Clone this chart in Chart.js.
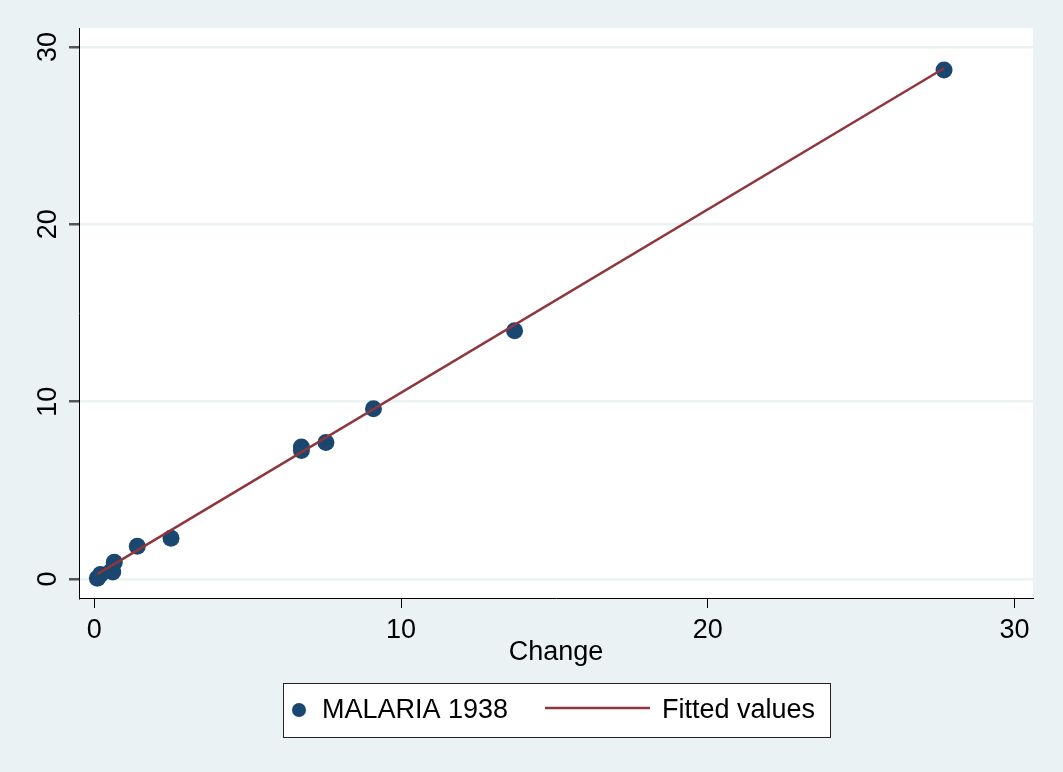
<!DOCTYPE html>
<html>
<head>
<meta charset="utf-8">
<script src="https://cdn.jsdelivr.net/npm/chart.js@4"></script>
<style>
  html, body { margin: 0; padding: 0; background: #eaf2f3; }
  #wrap { width: 1063px; height: 772px; }
</style>
</head>
<body>
<div id="wrap"><canvas id="chart"></canvas></div>
<script>
// values
const malariaX = [0.1, 0.2, 0.55, 0.6, 0.65, 1.4, 2.5, 6.75, 6.75, 7.55, 9.1, 13.7, 27.7];
const malariaY = [0.05, 0.25, 0.45, 0.4, 0.95, 1.85, 2.3, 7.25, 7.45, 7.7, 9.6, 14.0, 28.7];
const fittedX = [0.1, 27.7];
const fittedY = [0.28, 28.8];
const xTicks = [0, 10, 20, 30];
const yTicks = [0, 10, 20, 30];
const xTitle = 'Change';
const legendLabels = ['MALARIA 1938', 'Fitted values'];

const navy = '#1a476f';
const maroon = '#90353b';
const bg = '#eaf2f3';
const font = '"Liberation Sans", Arial, Helvetica, sans-serif';

const plotBg = {
    id: 'plotBg',
    beforeDraw(chart) {
        const { ctx, chartArea: a } = chart;
        ctx.save();
        ctx.fillStyle = bg;
        ctx.fillRect(0, 0, chart.width, chart.height);
        ctx.fillStyle = '#ffffff';
        ctx.fillRect(a.left, a.top, a.right - a.left, a.bottom - a.top);
        ctx.restore();
    }
};

// y tick labels are rotated in the original, chart.js can't do that on y
const yLabels = {
    id: 'yLabels',
    afterDraw(chart) {
        const { ctx } = chart;
        const y = chart.scales.y;
        ctx.save();
        ctx.fillStyle = '#000';
        ctx.font = '27px ' + font;
        ctx.textAlign = 'center';
        ctx.textBaseline = 'middle';
        yTicks.forEach(v => {
            ctx.save();
            ctx.translate(49, y.getPixelForValue(v));
            ctx.rotate(-Math.PI / 2);
            ctx.fillText(String(v), 0, 0);
            ctx.restore();
        });
        ctx.restore();
    }
};

const boxLegend = {
    id: 'boxLegend',
    afterDraw(chart) {
        const { ctx } = chart;
        ctx.save();
        ctx.fillStyle = '#fff';
        ctx.fillRect(283, 683, 547, 54);
        ctx.strokeStyle = '#222';
        ctx.lineWidth = 1;
        ctx.strokeRect(283.5, 683.5, 547, 54);

        ctx.fillStyle = navy;
        ctx.beginPath();
        ctx.arc(299, 710, 7, 0, Math.PI * 2);
        ctx.fill();

        ctx.strokeStyle = maroon;
        ctx.lineWidth = 2.5;
        ctx.beginPath();
        ctx.moveTo(545, 708);
        ctx.lineTo(650, 708);
        ctx.stroke();

        ctx.fillStyle = '#000';
        ctx.font = '27px ' + font;
        ctx.textBaseline = 'middle';
        ctx.fillText(legendLabels[0], 322, 711);
        ctx.fillText(legendLabels[1], 662, 711);
        ctx.restore();
    }
};

const ctx = document.getElementById('chart').getContext('2d');
new Chart(ctx, {
    type: 'scatter',
    data: {
        datasets: [{
            label: legendLabels[0],
            data: malariaX.map((x, i) => ({ x: x, y: malariaY[i] })),
            backgroundColor: navy,
            borderColor: navy,
            pointRadius: 8.5,
            pointBorderWidth: 0,
            order: 2
        }, {
            label: legendLabels[1],
            type: 'line',
            data: fittedX.map((x, i) => ({ x: x, y: fittedY[i] })),
            borderColor: maroon,
            borderWidth: 2.5,
            pointRadius: 0,
            fill: false,
            order: 1
        }]
    },
    options: {
        responsive: true,
        maintainAspectRatio: false,
        animation: false,
        layout: { padding: { top: 28, right: 30, bottom: 103, left: 0 } },
        plugins: {
            legend: { display: false },
            tooltip: { enabled: false }
        },
        scales: {
            x: {
                type: 'linear',
                min: -0.5,
                max: 30.6,
                afterBuildTicks: s => { s.ticks = xTicks.map(v => ({ value: v })); },
                afterFit: s => { s.height = 71; },
                border: { color: '#000', width: 1 },
                grid: { drawOnChartArea: false, drawTicks: true, tickLength: 10, tickColor: '#000' },
                ticks: { color: '#000', padding: 6, maxRotation: 0, font: { size: 27, family: font } },
                title: { display: true, text: xTitle, color: '#000', padding: 0, font: { size: 27, family: font } }
            },
            y: {
                type: 'linear',
                min: -1.07,
                max: 31.07,
                afterBuildTicks: s => { s.ticks = yTicks.map(v => ({ value: v })); },
                afterFit: s => { s.width = 79; },
                border: { color: '#000', width: 1 },
                grid: { color: bg, lineWidth: 2.5, tickLength: 10, tickColor: '#555' },
                ticks: { display: false }
            }
        }
    },
    plugins: [plotBg, yLabels, boxLegend]
});
</script>
</body>
</html>
